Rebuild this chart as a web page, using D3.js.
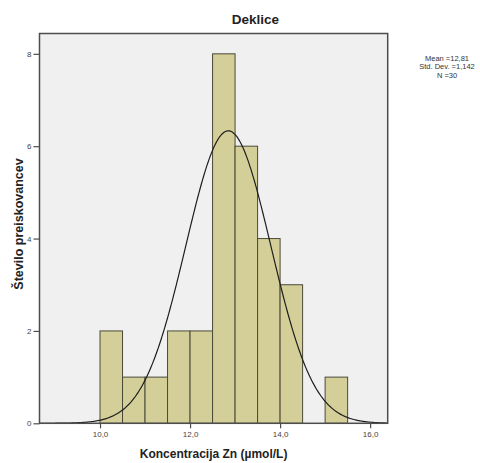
<!DOCTYPE html>
<html>
<head>
<meta charset="utf-8">
<script src="https://cdn.jsdelivr.net/npm/d3@7"></script>
<style>
  html, body { margin: 0; padding: 0; background: #ffffff; }
  svg { display: block; font-family: "Liberation Sans", Arial, sans-serif; }
</style>
</head>
<body>
<svg id="chart" width="480" height="463"></svg>
<script>
// Histogram bins of zinc concentration (µmol/L), width 0.5
const binStarts = [10.0, 10.5, 11.0, 11.5, 12.0, 12.5, 13.0, 13.5, 14.0, 14.5, 15.0];
const binCounts = [2, 1, 1, 2, 2, 8, 6, 4, 3, 0, 1];
const binWidth = 0.5;

// Axis ticks
const xTicks = [10, 12, 14, 16];
const xTickLabels = ["10,0", "12,0", "14,0", "16,0"];
const yTicks = [0, 2, 4, 6, 8];

// Summary statistics shown beside the plot
const statLabels = ["Mean =12,81", "Std. Dev. =1,142", "N =30"];

// Fitted normal curve overlay
const curveCenter = 12.85;
const curveSpread = 0.945;
const curveTotal = 30;

const title = "Deklice";
const xTitle = "Koncentracija Zn (µmol/L)";
const yTitle = "Število preiskovancev";

const svg = d3.select("#chart");

const plot = { left: 39.5, right: 387.7, top: 33.5, bottom: 423.3 };

const x = d3.scaleLinear().domain([8.656, 16.39]).range([plot.left, plot.right]);
const y = d3.scaleLinear().domain([0, 8.44]).range([plot.bottom, plot.top]);

// plot background
svg.append("rect")
  .attr("x", plot.left).attr("y", plot.top)
  .attr("width", plot.right - plot.left).attr("height", plot.bottom - plot.top)
  .attr("fill", "#f0f0f0");

svg.append("defs").append("clipPath").attr("id", "plotClip")
  .append("rect")
  .attr("x", plot.left).attr("y", plot.top)
  .attr("width", plot.right - plot.left).attr("height", plot.bottom - plot.top);

// bars
const bins = binStarts.map((s, i) => ({ start: s, count: binCounts[i] })).filter(d => d.count > 0);
svg.append("g").selectAll("rect").data(bins).join("rect")
  .attr("x", d => x(d.start))
  .attr("y", d => y(d.count))
  .attr("width", d => x(d.start + binWidth) - x(d.start))
  .attr("height", d => y(0) - y(d.count))
  .attr("fill", "#d4cf98")
  .attr("stroke", "#4a4a3a")
  .attr("stroke-width", 1);

// normal curve
const xs = d3.range(8.656, 16.40, 0.02);
const density = v => curveTotal * binWidth / (curveSpread * Math.sqrt(2 * Math.PI)) *
  Math.exp(-0.5 * Math.pow((v - curveCenter) / curveSpread, 2));
svg.append("path")
  .datum(xs)
  .attr("clip-path", "url(#plotClip)")
  .attr("fill", "none")
  .attr("stroke", "#1e1e1e")
  .attr("stroke-width", 1.2)
  .attr("d", d3.line().x(v => x(v)).y(v => y(density(v))));

// frame
svg.append("rect")
  .attr("x", plot.left).attr("y", plot.top)
  .attr("width", plot.right - plot.left).attr("height", plot.bottom - plot.top)
  .attr("fill", "none")
  .attr("stroke", "#4d4d4d")
  .attr("stroke-width", 1.5);

// axes
const xAxis = d3.axisBottom(x).tickValues(xTicks).tickSize(5).tickPadding(3)
  .tickFormat((d, i) => xTickLabels[i]);
const gx = svg.append("g").attr("transform", `translate(0,${plot.bottom})`).call(xAxis);
gx.select(".domain").remove();
gx.selectAll("line").attr("stroke", "#4d4d4d").attr("stroke-width", 1.2);
gx.selectAll("text").attr("font-size", "8px").attr("fill", "#444")
  .attr("font-family", "Liberation Sans, Arial, sans-serif");

const yAxis = d3.axisLeft(y).tickValues(yTicks).tickSize(6).tickPadding(2)
  .tickFormat(d3.format("d"));
const gy = svg.append("g").attr("transform", `translate(${plot.left},0)`).call(yAxis);
gy.select(".domain").remove();
gy.selectAll("line").attr("stroke", "#4d4d4d").attr("stroke-width", 1.2);
gy.selectAll("text").attr("font-size", "8px").attr("fill", "#444")
  .attr("font-family", "Liberation Sans, Arial, sans-serif");

// title
svg.append("text")
  .attr("x", 255.5).attr("y", 24)
  .attr("text-anchor", "middle")
  .attr("font-size", "13.5px").attr("font-weight", "bold").attr("fill", "#222")
  .text(title);

// axis titles
svg.append("text")
  .attr("x", (plot.left + plot.right) / 2).attr("y", 458)
  .attr("text-anchor", "middle")
  .attr("font-size", "12px").attr("font-weight", "bold").attr("fill", "#222")
  .text(xTitle);

svg.append("text")
  .attr("transform", `translate(22.5,224) rotate(-90)`)
  .attr("text-anchor", "middle")
  .attr("font-size", "12.5px").attr("font-weight", "bold").attr("fill", "#222")
  .text(yTitle);

// statistics block
svg.append("g").selectAll("text").data(statLabels).join("text")
  .attr("x", 447).attr("y", (d, i) => 60.5 + i * 8.5)
  .attr("text-anchor", "middle")
  .attr("font-size", "7.5px").attr("fill", "#333")
  .text(d => d);
</script>
</body>
</html>
